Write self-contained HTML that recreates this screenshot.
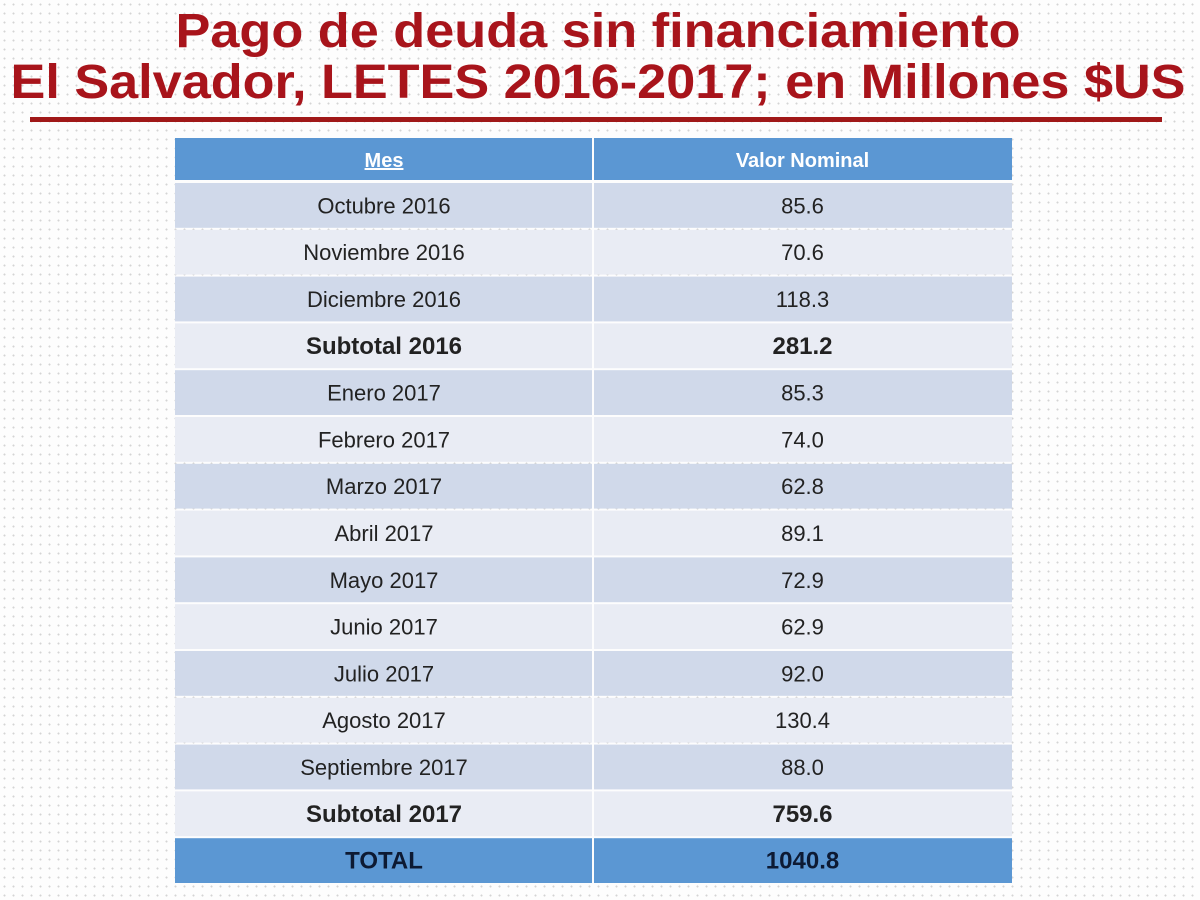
<!DOCTYPE html>
<html><head><meta charset="utf-8"><style>
body{margin:0;width:1200px;height:900px;overflow:hidden;background:#fdfdfd;font-family:"Liberation Sans",sans-serif;
background-image:radial-gradient(#d4d4d4 0.8px,transparent 1.2px);background-size:9px 9px;}
svg{position:absolute;left:0;top:0}
</style></head><body>
<svg width="1200" height="900">
<text x="598" y="47" text-anchor="middle" textLength="845" lengthAdjust="spacingAndGlyphs" font-family="Liberation Sans" font-weight="bold" font-size="48" fill="#a8141b">Pago de deuda sin financiamiento</text>
<text x="598" y="98" text-anchor="middle" textLength="1175" lengthAdjust="spacingAndGlyphs" font-family="Liberation Sans" font-weight="bold" font-size="48" fill="#a8141b">El Salvador, LETES 2016-2017; en Millones $US</text>
<rect x="30" y="117" width="1132" height="5" fill="#a01818"/>
<g id="tbl"></g>
</svg>
<script>
const months=["Octubre 2016","Noviembre 2016","Diciembre 2016","Subtotal 2016","Enero 2017","Febrero 2017","Marzo 2017","Abril 2017","Mayo 2017","Junio 2017","Julio 2017","Agosto 2017","Septiembre 2017","Subtotal 2017","TOTAL"];
const values=["85.6","70.6","118.3","281.2","85.3","74.0","62.8","89.1","72.9","62.9","92.0","130.4","88.0","759.6","1040.8"];
const ns="http://www.w3.org/2000/svg";
const g=document.getElementById('tbl');
const X0=175,XM=593,X1=1012,rowH=46.8,top0=183;
function rect(x,y,w,h,f){const r=document.createElementNS(ns,'rect');r.setAttribute('x',x);r.setAttribute('y',y);r.setAttribute('width',w);r.setAttribute('height',h);r.setAttribute('fill',f);g.appendChild(r);return r;}
function txt(x,y,s,fs,bold,fill){const t=document.createElementNS(ns,'text');t.setAttribute('x',x);t.setAttribute('y',y);t.setAttribute('text-anchor','middle');t.setAttribute('font-size',fs);t.setAttribute('font-family','Liberation Sans');if(bold)t.setAttribute('font-weight','bold');t.setAttribute('fill',fill);t.textContent=s;g.appendChild(t);return t;}
let h=rect(X0,138,XM-X0-1,42,'#5b97d3');


h=rect(XM+1,138,X1-XM-1,42,'#5b97d3');


let t=txt((X0+XM)/2,167,'Mes',20,true,'#fff');
t.setAttribute('text-decoration','underline');


t=txt((XM+X1)/2,167,'Valor Nominal',20,true,'#fff');


months.forEach((m,i)=>{
  const y=top0+i*rowH;
  const last=i===months.length-1;
  const bold=m.startsWith('Subtotal')||last;
  const fill=last?'#5b97d3':(i%2===0?'#d0d9ea':'#e9ecf4');
  const r1=rect(X0,y,XM-X0-1,rowH-2,fill);
  
  
  const r2=rect(XM+1,y,X1-XM-1,rowH-2,fill);
  
  
  const fs=bold?24:22;
  const c=last?'#0d1a33':'#222';
  const a=txt((X0+XM)/2,y+rowH/2+7,m,fs,bold,c);
  
  
  const b=txt((XM+X1)/2,y+rowH/2+7,values[i],fs,bold,c);
  
  
});
</script>
</body></html>
